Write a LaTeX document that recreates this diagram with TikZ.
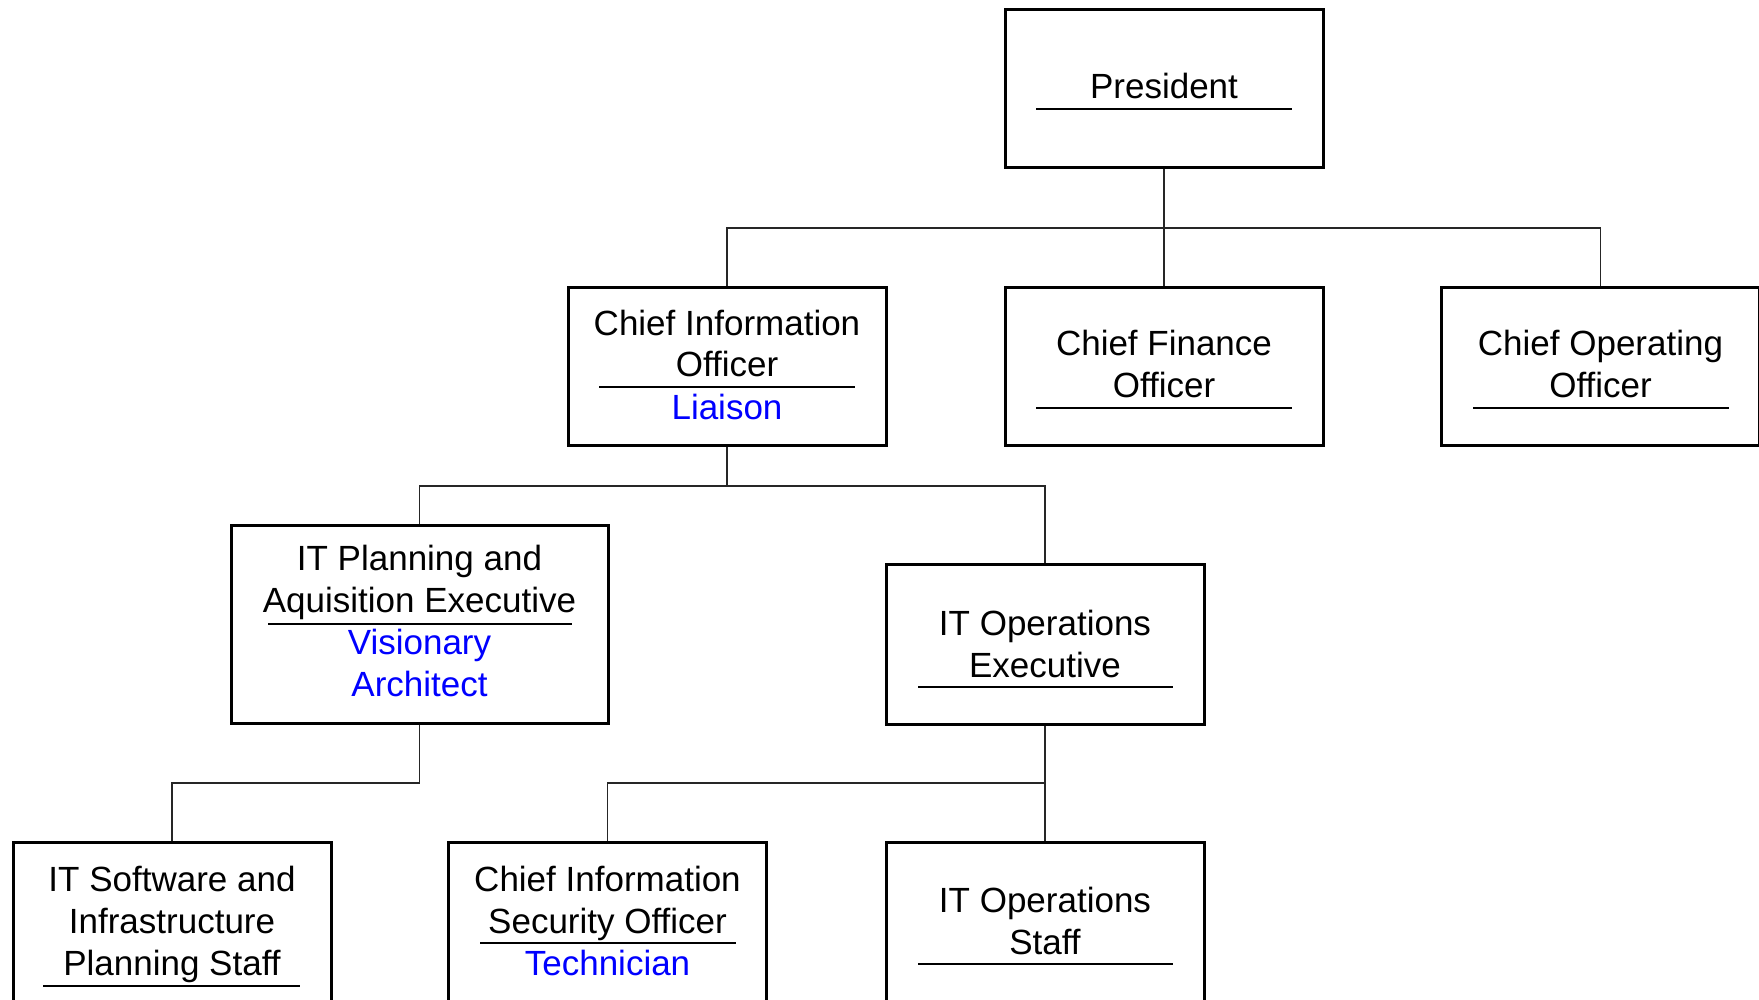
\documentclass[tikz,border=0pt]{standalone}
\usepackage{fontspec}
\setmainfont{Liberation Sans}
\definecolor{roleblue}{RGB}{0,0,255}
\tikzset{
  orgbox/.style={draw=black, line width=3pt, rectangle, inner sep=0pt, minimum width=318pt, minimum height=158pt},
  lbl/.style={anchor=base, inner sep=0pt, font=\fontsize{35}{42}\selectfont, text=black},
  role/.style={lbl, text=roleblue},
  uline/.style={line width=2.8pt, black},
  conn/.style={line width=1.3pt, black!85},
}
\begin{document}
\begin{tikzpicture}[x=1pt,y=-1pt]
\clip (0,0) rectangle (1759,999);
\fill[white] (0,0) rectangle (1759,999);
% boxes
\node[orgbox] (pres) at (1164,88) {};
\node[orgbox] (cio) at (727,366) {};
\node[orgbox] (cfo) at (1164,366) {};
\node[orgbox] (coo) at (1600.5,366) {};
\node[orgbox, minimum width=377pt, minimum height=198pt] (itpa) at (419.5,624) {};
\node[orgbox, minimum height=160pt] (itoe) at (1045,644) {};
\node[orgbox, minimum height=200pt] (itsw) at (172,942) {};
\node[orgbox, minimum height=200pt] (ciso) at (607.5,942) {};
\node[orgbox, minimum height=200pt] (itos) at (1045,942) {};
% texts
\node[lbl] (presT) at (1164,98) {President};
\draw[uline] (1036,109) -- (1292,109);
\node[lbl] (cioT1) at (727,335) {Chief Information};
\node[lbl] (cioT2) at (727,376) {Officer};
\draw[uline] (599,387) -- (855,387);
\node[role] (cioR) at (727,419) {Liaison};
\node[lbl] (cfoT1) at (1164,355) {Chief Finance};
\node[lbl] (cfoT2) at (1164,397) {Officer};
\draw[uline] (1036,408) -- (1292,408);
\node[lbl] (cooT1) at (1600.5,355) {Chief Operating};
\node[lbl] (cooT2) at (1600.5,397) {Officer};
\draw[uline] (1473,408) -- (1729,408);
\node[lbl] (itpaT1) at (419.5,570) {IT Planning and};
\node[lbl] (itpaT2) at (419.5,612) {Aquisition Executive};
\draw[uline] (268,624) -- (572,624);
\node[role] (itpaR1) at (419.5,654) {Visionary};
\node[role] (itpaR2) at (419.5,696) {Architect};
\node[lbl] (itoeT1) at (1045,635) {IT Operations};
\node[lbl] (itoeT2) at (1045,677) {Executive};
\draw[uline] (918,687) -- (1173,687);
\node[lbl] (itswT1) at (172,891) {IT Software and};
\node[lbl] (itswT2) at (172,933) {Infrastructure};
\node[lbl] (itswT3) at (172,975) {Planning Staff};
\draw[uline] (43,986) -- (300,986);
\node[lbl] (cisoT1) at (607.5,891) {Chief Information};
\node[lbl] (cisoT2) at (607.5,933) {Security Officer};
\draw[uline] (480,943) -- (736,943);
\node[role] (cisoR) at (607.5,975) {Technician};
\node[lbl] (itosT1) at (1045,912) {IT Operations};
\node[lbl] (itosT2) at (1045,954) {Staff};
\draw[uline] (918,964) -- (1173,964);
% connectors
\coordinate (j1) at (1164,228);
\coordinate (j2) at (727,486);
\coordinate (j3) at (419.5,783);
\coordinate (j4) at (1045,783);
\draw[conn] (pres.south) -- (cfo.north);
\draw[conn] (j1) -| (cio.north);
\draw[conn] (j1) -| (coo.north);
\draw[conn] (cio.south) -- (j2);
\draw[conn] (j2) -| (itpa.north);
\draw[conn] (j2) -| (itoe.north);
\draw[conn] (itpa.south) -- (j3);
\draw[conn] (j3) -| (itsw.north);
\draw[conn] (itoe.south) -- (itos.north);
\draw[conn] (j4) -| (ciso.north);
\end{tikzpicture}
\end{document}
